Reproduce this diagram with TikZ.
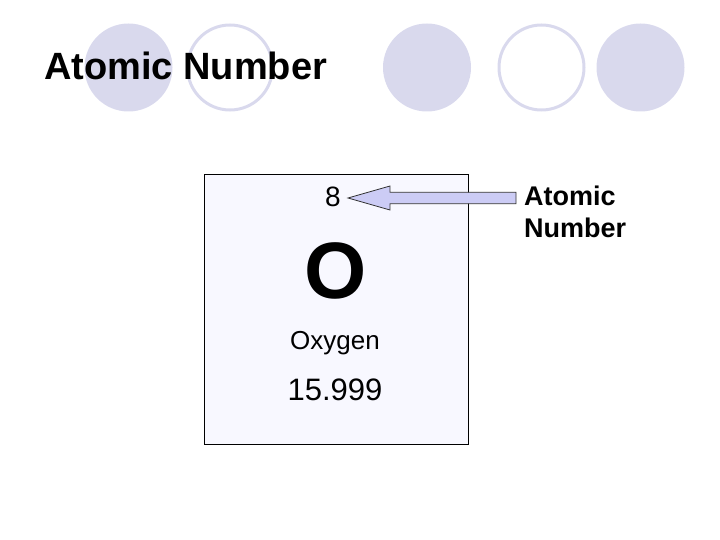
\documentclass[tikz,border=0pt]{standalone}
\usepackage{fontspec}
\setmainfont{Liberation Sans}
\usepackage{tikz}
\usetikzlibrary{calc}
\usetikzlibrary{positioning}
\tikzset{>=stealth}
\definecolor{dotfill}{RGB}{217,217,237}
\definecolor{cellfill}{RGB}{248,248,255}
\definecolor{arrowfill}{RGB}{204,204,245}
\tikzset{
  dotfull/.style={fill=dotfill},
  dotring/.style={draw=dotfill, line width=3pt},
  celltext/.style={anchor=base, inner sep=0pt},
  numarrow/.style={fill=arrowfill, draw=black!80, line width=0.8pt, line join=miter},
}

\begin{document}
\begin{tikzpicture}[x=1pt, y=-1pt]
          \useasboundingbox (0,0) rectangle (720,540);
          \fill [dotfull] (128.5,67.5) circle (44);
          \draw [dotring] (230,67.5) circle (42.5);
          \fill [dotfull] (427,67.5) circle (44);
          \draw [dotring] (541.5,67.5) circle (42.5);
          \fill [dotfull] (640.5,67.5) circle (44);
          \node[anchor=base west, inner sep=0pt, font=\fontsize{38}{38}\selectfont\bfseries] (title) at (44,80) {Atomic Number};
          \node[draw, line width=0.8pt, fill=cellfill, minimum width=264pt, minimum height=270pt, inner sep=0pt] (cell) at (336,309) {};
          \node[celltext, font=\fontsize{28}{28}\selectfont] (num) at (333,206.7) {8};
          \node[celltext, font=\fontsize{80}{80}\selectfont\bfseries] (sym) at (335.5,298) {O};
          \node[celltext, font=\fontsize{26}{26}\selectfont] (name) at (335,349) {Oxygen};
          \node[celltext, font=\fontsize{31}{31}\selectfont] (mass) at (335,400) {15.999};
          \node[anchor=north west, inner sep=0pt, align=left, font=\fontsize{27}{32}\selectfont\bfseries] (lbl) at (524,185.5) {Atomic\\Number};
          \coordinate (tip) at ($(num.base east)+(7,-8.7)$);
          \coordinate (tail) at ($(lbl.west |- tip)+(-8,0)$);
          \filldraw [numarrow] (tip) -- ++(42,-12) -- ++(0,6.3) -- ($(tail)+(0,-5.7)$) -- ($(tail)+(0,5.7)$) -- ($(tip)+(42,5.7)$) -- ++(0,6.3) -- cycle;
        \end{tikzpicture}
\end{document}
